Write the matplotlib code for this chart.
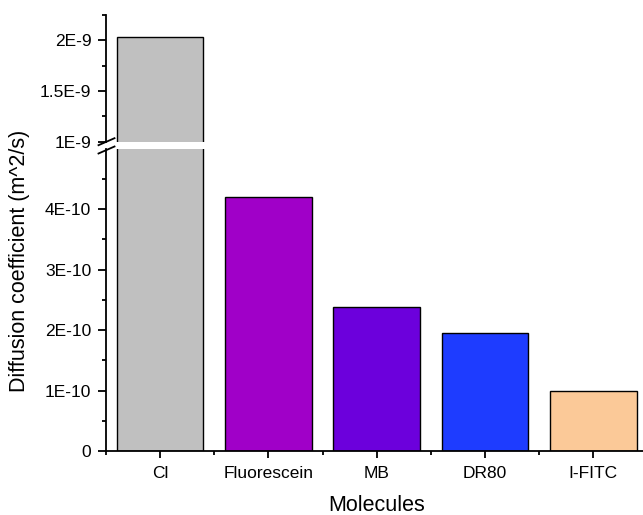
import numpy as np
import matplotlib
matplotlib.use("Agg")
import matplotlib.pyplot as plt
from matplotlib.lines import Line2D

plt.rcParams['font.family'] = ['Liberation Sans', 'DejaVu Sans']

molecules = ['Cl', 'Fluorescein', 'MB', 'DR80', 'I-FITC']
diff_coef = [2.03e-9, 4.2e-10, 2.38e-10, 1.96e-10, 1.0e-10]
colors = ['#C0C0C0', '#A000C8', '#6C00DC', '#1E3CFF', '#FBC998']

low_ticks = [0, 1e-10, 2e-10, 3e-10, 4e-10]
low_labels = ['0', '1E-10', '2E-10', '3E-10', '4E-10']
high_ticks = [1e-9, 1.5e-9, 2e-9]
high_labels = ['1E-9', '1.5E-9', '2E-9']

W, H = 643, 515
fig = plt.figure(figsize=(W / 100, H / 100), dpi=100)

left = 105.85 / W
width = (647.5 - 105.85) / W
ax_lo = fig.add_axes([left, 1 - 451.2 / H, width, (451.2 - 149) / H])
ax_hi = fig.add_axes([left, 1 - 141.7 / H, width, (141.7 - 15) / H])

x = np.arange(1, len(molecules) + 1)
for ax in (ax_lo, ax_hi):
    ax.bar(x, diff_coef, width=0.8, color=colors, edgecolor='black', linewidth=1)
    ax.set_xlim(0.5, 5.5)
    ax.spines['top'].set_visible(False)
    ax.spines['right'].set_visible(False)
    ax.spines['left'].set_linewidth(1.3)
    ax.spines['bottom'].set_linewidth(1.3)
    ax.tick_params(axis='y', which='major', length=5.5, width=1.3, labelsize=12.5, pad=5)
    ax.tick_params(axis='y', which='minor', length=3, width=1.3)

ax_lo.set_ylim(0, 4.99e-10)
ax_lo.set_yticks(low_ticks)
ax_lo.set_yticklabels(low_labels)
ax_lo.set_yticks(np.arange(0.5e-10, 5e-10, 1e-10), minor=True)
ax_lo.set_xticks(x)
ax_lo.set_xticklabels(molecules)
ax_lo.set_xticks(np.arange(0.5, 6, 1.0), minor=True)
ax_lo.tick_params(axis='x', which='major', length=5, width=1.3, labelsize=12.5, pad=6)
ax_lo.tick_params(axis='x', which='minor', length=3, width=1.3)
ax_lo.set_xlabel('Molecules', fontsize=15.5, labelpad=10)

ax_hi.set_ylim(1e-9, 2.25e-9)
ax_hi.set_yticks(high_ticks)
ax_hi.set_yticklabels(high_labels)
ax_hi.set_yticks([1.25e-9, 1.75e-9, 2.25e-9], minor=True)
ax_hi.spines['bottom'].set_visible(False)
ax_hi.set_xticks([])
ax_hi.patch.set_alpha(0)

fig.text(20 / W, 1 - 261 / H, 'Diffusion coefficient (m^2/s)', rotation=90,
         ha='center', va='center', fontsize=15.5)

# break marks
for yc in (141.7, 150.0):
    fig.add_artist(Line2D([98.5 / W, 114.5 / W],
                          [1 - (yc + 3.5) / H, 1 - (yc - 3.5) / H],
                          color='black', linewidth=1.3, transform=fig.transFigure))

fig.savefig('out.png', dpi=100)
